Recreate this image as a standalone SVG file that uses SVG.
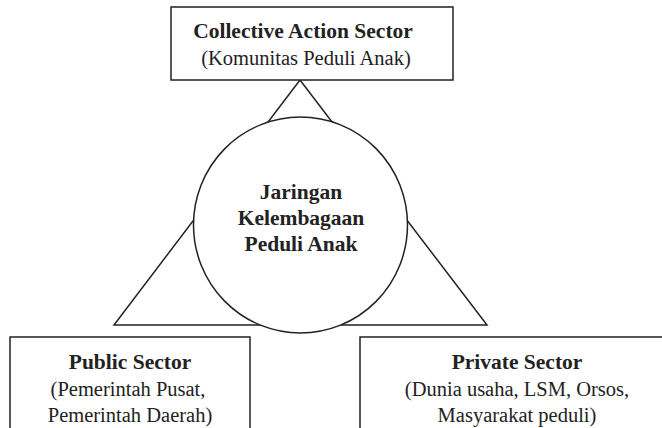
<svg xmlns="http://www.w3.org/2000/svg" width="662" height="428" viewBox="0 0 662 428">
  <style>
    .box { fill: #ffffff; stroke: #222222; stroke-width: 1.5; }
    .link { fill: none; stroke: #222222; stroke-width: 1.5; stroke-linejoin: miter; }
    .hub { fill: #ffffff; stroke: #222222; stroke-width: 1.5; }
    text { font-family: "Liberation Serif", "DejaVu Serif", serif; fill: #222222; text-anchor: middle; }
    .title { font-weight: bold; font-size: 21.5px; }
    .sub { font-size: 20.5px; }
  </style>

  <rect width="662" height="428" fill="#ffffff"/>

  <!-- triangle tying the three sectors together -->
  <g id="connectors">
    <polygon class="link" points="300,80 114,325 487,325"/>
  </g>

  <g id="collective-action-sector">
    <rect class="box" x="171" y="7" width="282" height="73"/>
    <text class="title" x="303" y="38">Collective Action Sector</text>
    <text class="sub" x="306" y="65">(Komunitas Peduli Anak)</text>
  </g>

  <g id="jaringan-kelembagaan">
    <ellipse class="hub" cx="300.5" cy="225" rx="107" ry="108"/>
    <text class="title" x="301" y="199">Jaringan</text>
    <text class="title" x="301" y="225">Kelembagaan</text>
    <text class="title" x="301" y="251">Peduli Anak</text>
  </g>

  <g id="public-sector">
    <rect class="box" x="10" y="337" width="240" height="100"/>
    <text class="title" x="130" y="369">Public Sector</text>
    <text class="sub" x="128" y="396">(Pemerintah Pusat,</text>
    <text class="sub" x="130" y="422">Pemerintah Daerah)</text>
  </g>

  <g id="private-sector">
    <rect class="box" x="360" y="337" width="320" height="100"/>
    <text class="title" x="517" y="369">Private Sector</text>
    <text class="sub" x="517" y="396">(Dunia usaha, LSM, Orsos,</text>
    <text class="sub" x="517" y="422">Masyarakat peduli)</text>
  </g>
</svg>
